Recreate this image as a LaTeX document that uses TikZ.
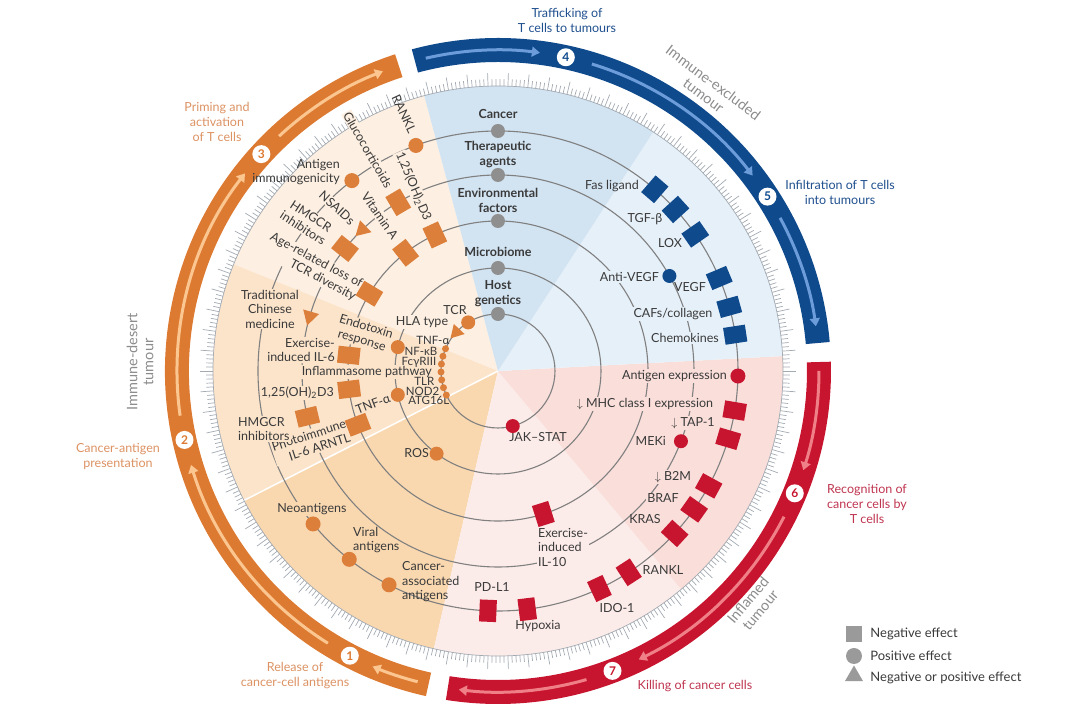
\documentclass[tikz,border=0pt]{standalone}
\usepackage{fontspec}
\setmainfont{Lato}
\usetikzlibrary{shapes.geometric, arrows.meta, positioning}

\definecolor{orA}{HTML}{FDEFE1}
\definecolor{orB}{HTML}{FCE4CB}
\definecolor{orC}{HTML}{F9D8B0}
\definecolor{blA}{HTML}{D2E3F2}
\definecolor{blB}{HTML}{E6F0F9}
\definecolor{rdA}{HTML}{F9DEDA}
\definecolor{rdB}{HTML}{FCECE9}
\definecolor{orband}{HTML}{DD7A32}
\definecolor{blband}{HTML}{0E4A8C}
\definecolor{rdband}{HTML}{C8152F}
\definecolor{orline}{HTML}{FBC690}
\definecolor{blline}{HTML}{6C9CDA}
\definecolor{rdline}{HTML}{F08088}
\definecolor{ormark}{HTML}{DB7F3A}
\definecolor{blmark}{HTML}{0E4A8C}
\definecolor{rdmark}{HTML}{C8152F}
\definecolor{hubgrey}{HTML}{8F8F8F}
\definecolor{ringgrey}{HTML}{808080}
\definecolor{tickgrey}{HTML}{A3AAB2}
\definecolor{txt}{HTML}{3A3A3A}
\definecolor{phasegrey}{HTML}{8C8C8C}
\definecolor{orstage}{HTML}{DC9263}
\definecolor{blstage}{HTML}{1F4F8E}
\definecolor{rdstage}{HTML}{BF3550}
\definecolor{keygrey}{HTML}{9A9A9A}

\tikzset{
  ring/.style={draw=ringgrey, line width=1.1pt},
  tickline/.style={draw=tickgrey, line width=0.7pt},
  hub/.style={circle, fill=hubgrey, minimum size=14pt, inner sep=0pt},
  posdot/.style={circle, fill=#1, minimum size=15pt, inner sep=0pt},
  negbox/.style={rectangle, fill=#1, minimum width=22pt, minimum height=17pt, inner sep=0pt},
  ambtri/.style={regular polygon, regular polygon sides=3, fill=#1, minimum size=19pt, inner sep=0pt},
  bead/.style={circle, fill=ormark, minimum size=7pt, inner sep=0pt},
  item/.style={font=\fontsize{12.5}{14.5}\selectfont, text=txt, inner sep=1pt},
  beadlbl/.style={font=\fontsize{11.5}{12}\selectfont, text=txt, inner sep=0.5pt, anchor=east},
  cat/.style={font=\bfseries\fontsize{12.5}{15}\selectfont, text=txt, align=center, inner sep=1pt},
  stage/.style={font=\fontsize{12.5}{15}\selectfont, text=#1, align=center, inner sep=1pt},
  phase/.style={font=\fontsize{14.5}{16}\selectfont, text=phasegrey, align=center, inner sep=1pt},
  bandarrow/.style={draw=#1, line width=3pt, -{Triangle[length=8pt,width=10pt]}},
  stepnum/.style={circle, fill=white, text=#1, font=\bfseries\fontsize{12}{12}\selectfont, minimum size=18pt, inner sep=0pt},
  keytext/.style={font=\fontsize{13}{15}\selectfont, text=txt, inner sep=1pt}
}

\begin{document}
\begin{tikzpicture}[x=1pt, y=1pt]
\useasboundingbox (-498,-356) rectangle (582,371);

% sectors
\foreach \s/\e/\c in {105/158/orA, 158/207/orB, 207/257/orC, 257/310/rdB, 310/363/rdA, 3/57/blB, 57/105/blA}
  \fill[fill=\c] (0,0) -- (\s:285pt) arc[start angle=\s, end angle=\e, radius=285pt] -- cycle;
\draw[white, line width=1.5pt] (0,0) -- (207:285pt);

% tick ring
\draw[tickline] (0,0) circle[radius=285pt];
\foreach \i in {0,...,449}{
  \pgfmathtruncatemacro\m{mod(\i,5)}
  \ifnum\m=0 \def\ticklen{298pt}\else\def\ticklen{292pt}\fi
  \draw[tickline] (\i*0.8:285pt) -- (\i*0.8:\ticklen);
}

% outer bands
\fill[orband] (108:309pt) arc[start angle=108, end angle=257.5, radius=309pt] -- (257.5:333pt) arc[start angle=257.5, end angle=108, radius=333pt] -- cycle;
\fill[blband] (5:309pt) arc[start angle=5, end angle=105, radius=309pt] -- (105:333pt) arc[start angle=105, end angle=5, radius=333pt] -- cycle;
\fill[rdband] (-99:309pt) arc[start angle=-99, end angle=1.6, radius=309pt] -- (1.6:333pt) arc[start angle=1.6, end angle=-99, radius=333pt] -- cycle;

\foreach \s/\e/\c in {255.5/247/orline, 238/197/orline, 188/142/orline, 133/111/orline,
                      103/82.5/blline, 73/37.5/blline, 28.5/8/blline,
                      0/-18/rdline, -27/-64/rdline, -74/-97/rdline}
  \draw[bandarrow=\c] (\s:321pt) arc[start angle=\s, end angle=\e, radius=321pt];

\node[stepnum=orband] (n1) at (242.5:321pt) {1};
\node[stepnum=orband] (n2) at (192.4:321pt) {2};
\node[stepnum=orband] (n3) at (137.5:321pt) {3};
\node[stepnum=blband] (n4) at (77.8:321pt) {4};
\node[stepnum=blband] (n5) at (32.9:321pt) {5};
\node[stepnum=rdband] (n6) at (337.6:321pt) {6};
\node[stepnum=rdband] (n7) at (290.9:321pt) {7};

% rings
\foreach \r in {57,103,150,196,240}
  \draw[ring] (0,0) circle[radius=\r pt];

% category labels
\node[cat] (tcancer) at (0,257) {Cancer};
\node[cat] (ttherap) at (0,217) {Therapeutic\\agents};
\node[cat] (tenv) at (0,171) {Environmental\\factors};
\node[cat] (tmicro) at (0,119) {Microbiome};
\node[cat] (thost) at (0,77.5) {Host\\genetics};

% labels, blue part
\node[item, anchor=east] (lfasl) at (142,185) {Fas ligand};
\node[item] (ltgfb) at (147,152) {TGF-β};
\node[item] (llox) at (172,128) {LOX};
\node[item, anchor=east, fill=blB] (lavegf) at (162,94) {Anti-VEGF};
\node[item] (lvegf) at (192,84) {VEGF};
\node[item, fill=blB] (lcafs) at (175,57) {CAFs/collagen};
\node[item, fill=blB] (lchemo) at (187,33) {Chemokines};

% labels, red part
\node[item, anchor=east, fill=rdA] (lagexp) at (230,-5) {Antigen expression};
\node[item, fill=rdA] (lmhc) at (147,-33) {$\downarrow$ MHC class I expression};
\node[item, fill=rdA] (ltap) at (195,-52) {$\downarrow$ TAP-1};
\node[item, anchor=east] (lmeki) at (169,-70) {MEKi};
\node[item] (ljak) at (40,-66) {JAK–STAT};
\node[item, fill=rdA] (lbtwom) at (175,-106) {$\downarrow$ B2M};
\node[item, fill=rdA] (lbraf) at (165,-127) {BRAF};
\node[item] (lkras) at (147,-148) {KRAS};
\node[item] (lranklr) at (165,-199) {RANKL};
\node[item] (lido) at (119,-237) {IDO-1};
\node[item] (lhypox) at (40,-255) {Hypoxia};
\node[item] (lpdl) at (-6,-216) {PD-L1};
\node[item, anchor=west, align=left, fill=rdB] (lilten) at (39,-176) {Exercise-\\induced\\IL-10};

% labels, orange part
\node[item, anchor=west, align=left] (lcaag) at (-97,-211) {Cancer-\\associated\\antigens};
\node[item, anchor=west, align=left] (lviral) at (-146,-169) {Viral\\antigens};
\node[item, fill=orC] (lneo) at (-186,-138) {Neoantigens};
\node[item, anchor=east] (lros) at (-68,-82) {ROS};
\node[item, rotate=18, align=right, fill=orB] (lphoto) at (-187,-71) {Photoimmune\\IL-6 ARNTL};
\node[item, anchor=west, align=left, fill=orB] (lhmgl) at (-261,-58) {HMGCR\\inhibitors};
\node[item, rotate=21] (ltnfm) at (-125,-33) {TNF-α};
\node[item, anchor=east, fill=orB] (lvitdl) at (-163,-22) {1,25(OH)\textsubscript{2}D3};
\node[item, anchor=east, fill=orB] (linfl) at (-65,-1) {Inflammasome pathway};
\node[item, anchor=east, align=right, fill=orB] (lilsix) at (-162,21) {Exercise-\\induced IL-6};
\node[item, rotate=-17, align=center, fill=orB] (lendo) at (-134,37) {Endotoxin\\response};
\node[item, fill=orA] (lhla) at (-76,49) {HLA type};
\node[item] (ltcr) at (-43,61) {TCR};
\node[beadlbl] (ltnfh) at (-48,31) {TNF-α};
\node[beadlbl] (lnfkb) at (-60,20) {NF-κB};
\node[beadlbl] (lfcg) at (-61,9) {FcγRIII};
\node[beadlbl] (ltlr) at (-63,-10) {TLR};
\node[beadlbl] (lnod) at (-58,-20) {NOD2};
\node[beadlbl] (latg) at (-48,-29) {ATG16L};
\node[item, align=center, fill=orB] (ltcm) at (-228,62) {Traditional\\Chinese\\medicine};
\node[item, rotate=-28, align=right, fill=orA] (lage) at (-185,104) {Age-related loss of\\TCR diversity};
\node[item, rotate=-33, align=center, fill=orA] (lhmgu) at (-191,149) {HMGCR\\inhibitors};
\node[item, rotate=-42, fill=orA] (lnsaid) at (-161,163) {NSAIDs};
\node[item, rotate=-55, fill=orA] (lvita) at (-118,155) {Vitamin A};
\node[item, rotate=-60, fill=orA] (lgluco) at (-130,221) {Glucocorticoids};
\node[item, rotate=-67, fill=orA] (lvitdu) at (-84.5,184.5) {1,25(OH)\textsubscript{2}D3};
\node[item, rotate=-65] (lranklo) at (-94,257) {RANKL};
\node[item, anchor=east, align=right] (lantimm) at (-157,199) {Antigen\\immunogenicity};

% markers on the cancer ring
\node[hub] (hcancer) at (90:240pt) {};
\foreach \a/\n in {49.2/fasl, 42.3/tgfb, 34.7/lox, 22.8/vegf, 15.5/cafs, 8.7/chemo}
  \node[negbox=blmark, rotate=\a] (\n) at (\a:240pt) {};
\foreach \a/\n in {350.5/mhc, 343.6/tap, 331.4/btwom, 324.8/braf, 317.4/kras, 303/ranklr, 295/ido, 277/hypox, 267.6/pdl}
  \node[negbox=rdmark, rotate=\a] (\n) at (\a:240pt) {};
\node[posdot=rdmark] (agexp) at (358.8:240pt) {};
\foreach \a/\n in {243/caag, 231.7/viral, 219.6/neo, 127.5/antimm, 110/ranklo}
  \node[posdot=ormark] (\n) at (\a:240pt) {};

% markers on the therapeutic ring
\node[hub] (htherap) at (90:196pt) {};
\node[posdot=blmark, minimum size=14pt] (avegf) at (29:196pt) {};
\node[posdot=rdmark, minimum size=14pt] (meki) at (339:196pt) {};
\foreach \a/\n in {193.5/hmgl, 141.3/hmgu, 120.6/gluco}
  \node[negbox=ormark, rotate=\a] (\n) at (\a:196pt) {};
\foreach \a/\n in {163.8/tcm, 133.8/nsaid}
  \node[ambtri=ormark, rotate=\a] (\n) at (\a:196pt) {};

% markers on the environmental ring
\node[hub] (henv) at (90:150pt) {};
\foreach \a/\n in {114.9/vitdu, 128/vita, 149/age, 174/ilsix, 187/vitdl, 201/photo}
  \node[negbox=ormark, rotate=\a] (\n) at (\a:150pt) {};
\node[negbox=rdmark, rotate=287.6] (ilten) at (287.6:150pt) {};

% markers on the microbiome ring
\node[hub] (hmicro) at (90:103pt) {};
\foreach \a/\n in {166.6/endo, 193.4/tnfm, 233.4/ros}
  \node[posdot=ormark, minimum size=14pt] (\n) at (\a:103pt) {};

% markers on the host genetics ring
\node[hub] (hhost) at (90:57pt) {};
\node[posdot=ormark, minimum size=14pt] (tcr) at (121.5:57pt) {};
\node[ambtri=ormark, minimum size=17pt, rotate=137] (hla) at (137:57pt) {};
\foreach \a [count=\k] in {157,165,173,181,189,197,205}
  \node[bead] (bead\k) at (\a:57pt) {};
\node[posdot=rdmark, minimum size=14pt] (jak) at (285:57pt) {};

% stage labels
\node[stage=blstage] (tfour) at (69,351) {Trafficking of\\T cells to tumours};
\node[stage=blstage] (tfive) at (342,179) {Infiltration of T cells\\into tumours};
\node[stage=orstage] (tthree) at (-281,249) {Priming and\\activation\\of T cells};
\node[stage=orstage] (ttwo) at (-380,-85.5) {Cancer-antigen\\presentation};
\node[stage=orstage] (tone) at (-203,-305) {Release of\\cancer-cell antigens};
\node[stage=rdstage] (tsix) at (369,-133) {Recognition of\\cancer cells by\\T cells};
\node[stage=rdstage] (tseven) at (197,-315) {Killing of cancer cells};

\node[phase, rotate=-37] (pexcl) at (210.5,282) {Immune-excluded\\tumour};
\node[phase, rotate=90] (pdesert) at (-358,9) {Immune-desert\\tumour};
\node[phase, rotate=50] (pinflam) at (256,-234) {Inflamed\\tumour};

% key
\node[negbox=keygrey, minimum width=16pt, minimum height=16pt] (keyneg) at (356,-263) {};
\node[posdot=keygrey, minimum size=16pt] (keypos) at (356,-285) {};
\node[ambtri=keygrey, minimum size=21pt] (keyamb) at (356,-305) {};
\node[keytext, right=7pt of keyneg] (keynegt) {Negative effect};
\node[keytext, right=7pt of keypos] (keypost) {Positive effect};
\node[keytext, anchor=west] (keyambt) at (keypost.west |- 0,-307) {Negative or positive effect};
\end{tikzpicture}
\end{document}
